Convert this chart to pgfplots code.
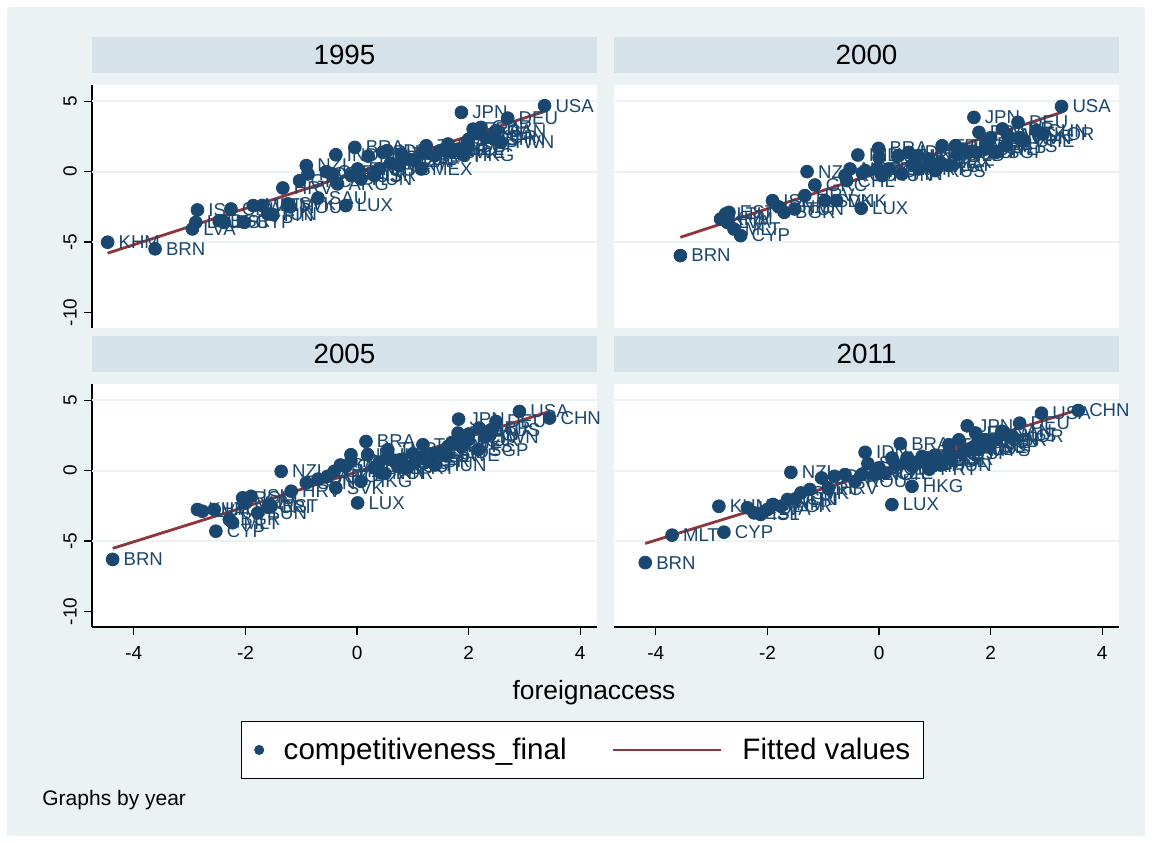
\documentclass[border=0pt]{standalone}
\usepackage{fontspec}
\setmainfont{Liberation Sans}
\usepackage{pgfplots}
\usepackage{pgfplotstable}
\pgfplotsset{compat=1.18}

\definecolor{stnavy}{RGB}{26,71,111}
\definecolor{stmaroon}{RGB}{144,53,59}
\definecolor{stbg}{RGB}{234,242,243}
\definecolor{ststrip}{RGB}{214,226,233}

% 1995
\pgfplotstableread{
x y c
-4.47 -5.01 KHM
-3.62 -5.48 BRN
-2.95 -4.07 LVA
-2.89 -3.60 LTU
-2.86 -2.72 ISL
-2.47 -3.48 BGR
-2.38 -3.60 EST
-2.26 -2.65 CRI
-2.02 -3.60 CYP
-1.86 -2.41 MLT
-1.70 -2.40 VNM
-1.60 -3.00 TUN
-1.51 -3.05 FIN
-1.33 -1.16 HRV
-1.24 -2.29 SVK
-1.20 -2.50 ROU
-1.03 -0.64 GRC
-0.91 0.43 NZL
-0.88 -0.16 NOR
-0.70 -1.87 SAU
-0.55 0.00 CZE
-0.44 -0.16 CHL
-0.38 1.20 IND
-0.35 -0.87 ARG
-0.20 -2.41 LUX
-0.10 -0.30 RUS
-0.04 1.72 BRA
0.01 0.19 DNK
0.07 -0.52 HUN
0.20 1.10 POL
0.31 -0.28 ISR
0.40 0.20 MYS
0.46 1.37 PHL
0.54 1.49 IDN
0.60 0.60 IRL
0.76 0.43 PRT
0.79 1.25 TUR
0.90 0.90 COL
1.03 0.78 ZAF
1.15 0.19 MEX
1.20 1.30 NLD
1.24 1.84 THA
1.39 1.13 AUT
1.50 1.50 ESP
1.63 1.96 ITA
1.70 1.40 SWE
1.81 1.60 BEL
1.87 4.21 JPN
1.90 1.20 HKG
1.99 1.84 SGP
2.00 2.30 AUS
2.08 3.02 FRA
2.15 2.70 CHE
2.22 3.14 GBR
2.31 2.43 KOR
2.46 2.32 CHN
2.49 2.91 CAN
2.58 2.08 TWN
2.70 3.80 DEU
3.36 4.68 USA
}\tabA

% 2000
\pgfplotstableread{
x y c
-3.56 -5.96 BRN
-2.84 -3.36 KHM
-2.75 -3.00 LTU
-2.72 -3.60 LVA
-2.69 -2.89 EST
-2.60 -4.07 MLT
-2.48 -4.54 CYP
-1.91 -2.06 ISL
-1.80 -2.50 VNM
-1.70 -2.89 BGR
-1.51 -2.65 TUN
-1.33 -1.70 HRV
-1.29 0.00 NZL
-1.15 -0.95 GRC
-0.97 -2.06 SVK
-0.76 -2.06 DNK
-0.61 -0.28 ROU
-0.58 -0.64 CHL
-0.52 0.19 NOR
-0.38 1.18 IND
-0.32 -2.60 LUX
-0.30 -0.10 CRI
-0.25 0.07 ARG
-0.04 0.19 CZE
-0.01 1.65 BRA
0.00 1.00 COL
0.05 -0.28 HUN
0.17 0.19 ISR
0.35 1.13 PHL
0.41 -0.16 FIN
0.53 1.37 IDN
0.60 0.50 SAU
0.70 1.10 IRL
0.71 0.19 PRT
0.89 0.90 POL
0.90 0.40 HKG
1.01 0.07 RUS
1.10 0.66 MEX
1.13 1.84 THA
1.25 0.43 ZAF
1.37 1.84 TUR
1.40 1.20 NLD
1.50 1.60 ITA
1.61 1.37 AUT
1.70 3.85 JPN
1.74 1.37 ESP
1.79 2.79 FRA
1.90 1.60 SWE
1.92 1.96 BEL
2.00 2.40 CAN
2.10 1.37 SGP
2.21 3.03 GBR
2.28 1.84 MYS
2.30 2.60 AUS
2.49 3.50 DEU
2.50 2.40 TWN
2.60 2.20 CHE
2.82 2.91 CHN
2.94 2.67 KOR
3.27 4.63 USA
}\tabB

% 2005
\pgfplotstableread{
x y c
-4.38 -6.30 BRN
-2.86 -2.76 KHM
-2.77 -2.88 LVA
-2.56 -2.76 LTU
-2.53 -4.30 CYP
-2.29 -3.47 BGR
-2.23 -3.70 MLT
-2.05 -1.93 ROU
-2.00 -2.30 VNM
-1.90 -1.82 ISL
-1.78 -3.00 TUN
-1.60 -2.60 CRI
-1.54 -2.53 EST
-1.36 -0.05 NZL
-1.18 -1.46 HRV
-0.91 -0.87 SVN
-0.70 -0.60 DNK
-0.53 -0.40 ARG
-0.41 -0.05 CHL
-0.38 -1.22 SVK
-0.30 0.40 SAU
-0.20 0.30 COL
-0.11 1.13 IND
-0.11 0.66 IDN
0.01 -2.29 LUX
0.07 -0.76 HKG
0.16 2.07 BRA
0.19 1.13 PHL
0.31 0.19 CZE
0.40 0.60 IRL
0.43 -0.16 NOR
0.50 -0.20 FIN
0.55 1.49 TUR
0.60 0.80 MEX
0.73 0.30 RUS
0.79 0.78 POL
0.90 0.20 PRT
1.00 1.20 ZAF
1.03 0.54 AUT
1.18 1.84 THA
1.20 1.00 BEL
1.27 0.66 ISR
1.39 1.25 ESP
1.40 0.40 HUN
1.50 1.30 NLD
1.60 1.10 SWE
1.63 1.72 ITA
1.70 2.00 CHE
1.81 2.67 FRA
1.82 3.66 JPN
1.87 1.72 MYS
1.99 2.19 KOR
2.00 2.60 CAN
2.17 1.49 SGP
2.19 3.02 GBR
2.30 2.40 TWN
2.40 2.90 AUS
2.49 3.49 DEU
2.91 4.20 USA
3.45 3.73 CHN
}\tabC

% 2011
\pgfplotstableread{
x y c
-4.19 -6.53 BRN
-3.71 -4.58 MLT
-2.87 -2.53 KHM
-2.78 -4.37 CYP
-2.36 -2.64 LTU
-2.24 -3.00 EST
-2.12 -3.11 ISL
-2.00 -2.76 LVA
-1.90 -2.40 VNM
-1.76 -2.53 BGR
-1.64 -2.05 TUN
-1.58 -0.12 NZL
-1.50 -2.00 CRI
-1.40 -1.58 SVK
-1.24 -1.34 GRC
-1.03 -0.52 SVN
-0.91 -1.23 HRV
-0.80 -0.40 DNK
-0.61 -0.28 CHL
-0.43 -0.76 ROU
-0.31 -0.28 ARG
-0.25 1.30 IDN
-0.20 0.50 SAU
-0.07 -0.28 NOR
0.00 0.20 COL
0.11 -0.16 CZE
0.23 0.90 IND
0.23 -2.41 LUX
0.30 0.40 MEX
0.38 1.91 BRA
0.47 0.54 PHL
0.50 0.90 IRL
0.59 -1.11 HKG
0.60 0.30 ZAF
0.70 0.60 FIN
0.77 1.01 TUR
0.89 0.78 RUS
0.90 0.10 PRT
1.00 1.10 BEL
1.07 0.66 POL
1.10 0.40 HUN
1.25 1.84 THA
1.25 1.25 AUT
1.30 0.80 ISR
1.43 2.19 ITA
1.49 1.25 ESP
1.58 3.18 JPN
1.60 1.50 NLD
1.70 1.70 SWE
1.73 2.67 FRA
1.79 1.49 MYS
1.80 2.00 CHE
1.90 2.20 TWN
1.97 1.72 SGP
2.09 2.19 GBR
2.20 2.80 CAN
2.30 2.50 AUS
2.39 2.43 KOR
2.52 3.37 DEU
2.91 4.08 USA
3.57 4.27 CHN
}\tabD

\pgfplotsset{
  panel/.style={
    scale only axis, width=252.5pt, height=121.5pt,
    xmin=-4.75, xmax=4.3, ymin=-11.1, ymax=6.15,
    clip=false,
    axis background/.style={fill=white},
    xtick={-4,-2,0,2,4}, ytick={-10,-5,0,5},
    extra y ticks={-5,0,5}, extra y tick labels={},
    extra y tick style={grid=major, major tick length=0pt},
    grid style={stbg, line width=0.9pt},
    tick align=outside, major tick length=4pt,
    tick style={black, line width=0.6pt},
    axis line style={black, line width=0.6pt, -},
    /pgf/number format/assume math mode=true,
    ticklabel style={font=\fontsize{9.5}{11}\selectfont},
    xticklabel style={yshift=-2pt},
    yticklabel style={rotate=90, anchor=south},
    title style={at={(0.5,1)}, anchor=south, yshift=0pt, fill=ststrip,
      minimum width=252.5pt, minimum height=18pt, inner sep=0pt,
      font=\fontsize{13.9}{15}\selectfont},
  },
  leftcol/.style={axis y line*=left},
  rightcol/.style={axis y line*=left, y axis line style={draw=none},
    yticklabels={}, ytick style={draw=none}},
  toprow/.style={axis x line=none},
  botrow/.style={axis x line*=bottom},
  dots/.style={only marks, mark=*, mark size=3.2pt, color=stnavy,
    mark options={fill=stnavy, draw=stnavy},
    nodes near coords, point meta=explicit symbolic,
    every node near coord/.append style={anchor=west, xshift=5.3pt, inner sep=0pt,
      font=\fontsize{9.3}{10}\selectfont, text=stnavy},
    legend image code/.code={\draw[##1, mark size=2.25pt] plot coordinates {(0pt,0pt)};}},
  fit/.style={stmaroon, line width=1.4pt, no marks,
    legend image code/.code={\draw[##1] (0pt,0pt) -- (51.5pt,0pt); \path (0pt,0pt) -- (54pt,0pt);}},
}

\begin{document}
\begin{tikzpicture}
\fill[white] (0,0) rectangle (576pt,421.5pt);
\fill[stbg] (3.5pt,3.5pt) rectangle (572.5pt,418pt);

\begin{axis}[panel, leftcol, toprow, at={(46pt,257.5pt)}, anchor=south west, title={1995}]
\addplot[dots] table[x=x, y=y, meta=c] {\tabA};
\addplot[fit] coordinates {(-4.47,-5.79) (3.36,4.27)};
\end{axis}

\begin{axis}[panel, rightcol, toprow, at={(307pt,257.5pt)}, anchor=south west, title={2000}]
\addplot[dots] table[x=x, y=y, meta=c] {\tabB};
\addplot[fit] coordinates {(-3.56,-4.66) (3.27,4.21)};
\end{axis}

\begin{axis}[panel, leftcol, botrow, at={(46pt,108pt)}, anchor=south west, title={2005},
  legend style={at={(0.9713,-0.506)}, anchor=center, draw=black, line width=0.5pt, fill=white,
    font=\fontsize{14.8}{16}\selectfont, legend columns=2, inner xsep=6.5pt, inner ysep=8pt,
    nodes={inner sep=0pt}, column sep=0pt,
    /tikz/every odd column/.append style={column sep=10pt},
    /tikz/every even column/.append style={column sep=22.5pt}},
  legend cell align=left]
\addplot[dots] table[x=x, y=y, meta=c] {\tabC};
\addlegendentry{competitiveness\_final}
\addplot[fit] coordinates {(-4.38,-5.52) (3.45,4.20)};
\addlegendentry{Fitted values}
\end{axis}

\begin{axis}[panel, rightcol, botrow, at={(307pt,108pt)}, anchor=south west, title={2011}]
\addplot[dots] table[x=x, y=y, meta=c] {\tabD};
\addplot[fit] coordinates {(-4.19,-5.17) (3.57,4.32)};
\end{axis}

\node[font=\fontsize{13.2}{15}\selectfont] at (297pt,75pt) {foreignaccess};
\node[anchor=west, inner sep=0pt, font=\fontsize{10.5}{12}\selectfont] at (21pt,21.5pt) {Graphs by year};

\pgfresetboundingbox
\path (0,0) rectangle (576pt,421.5pt);
\end{tikzpicture}
\end{document}
